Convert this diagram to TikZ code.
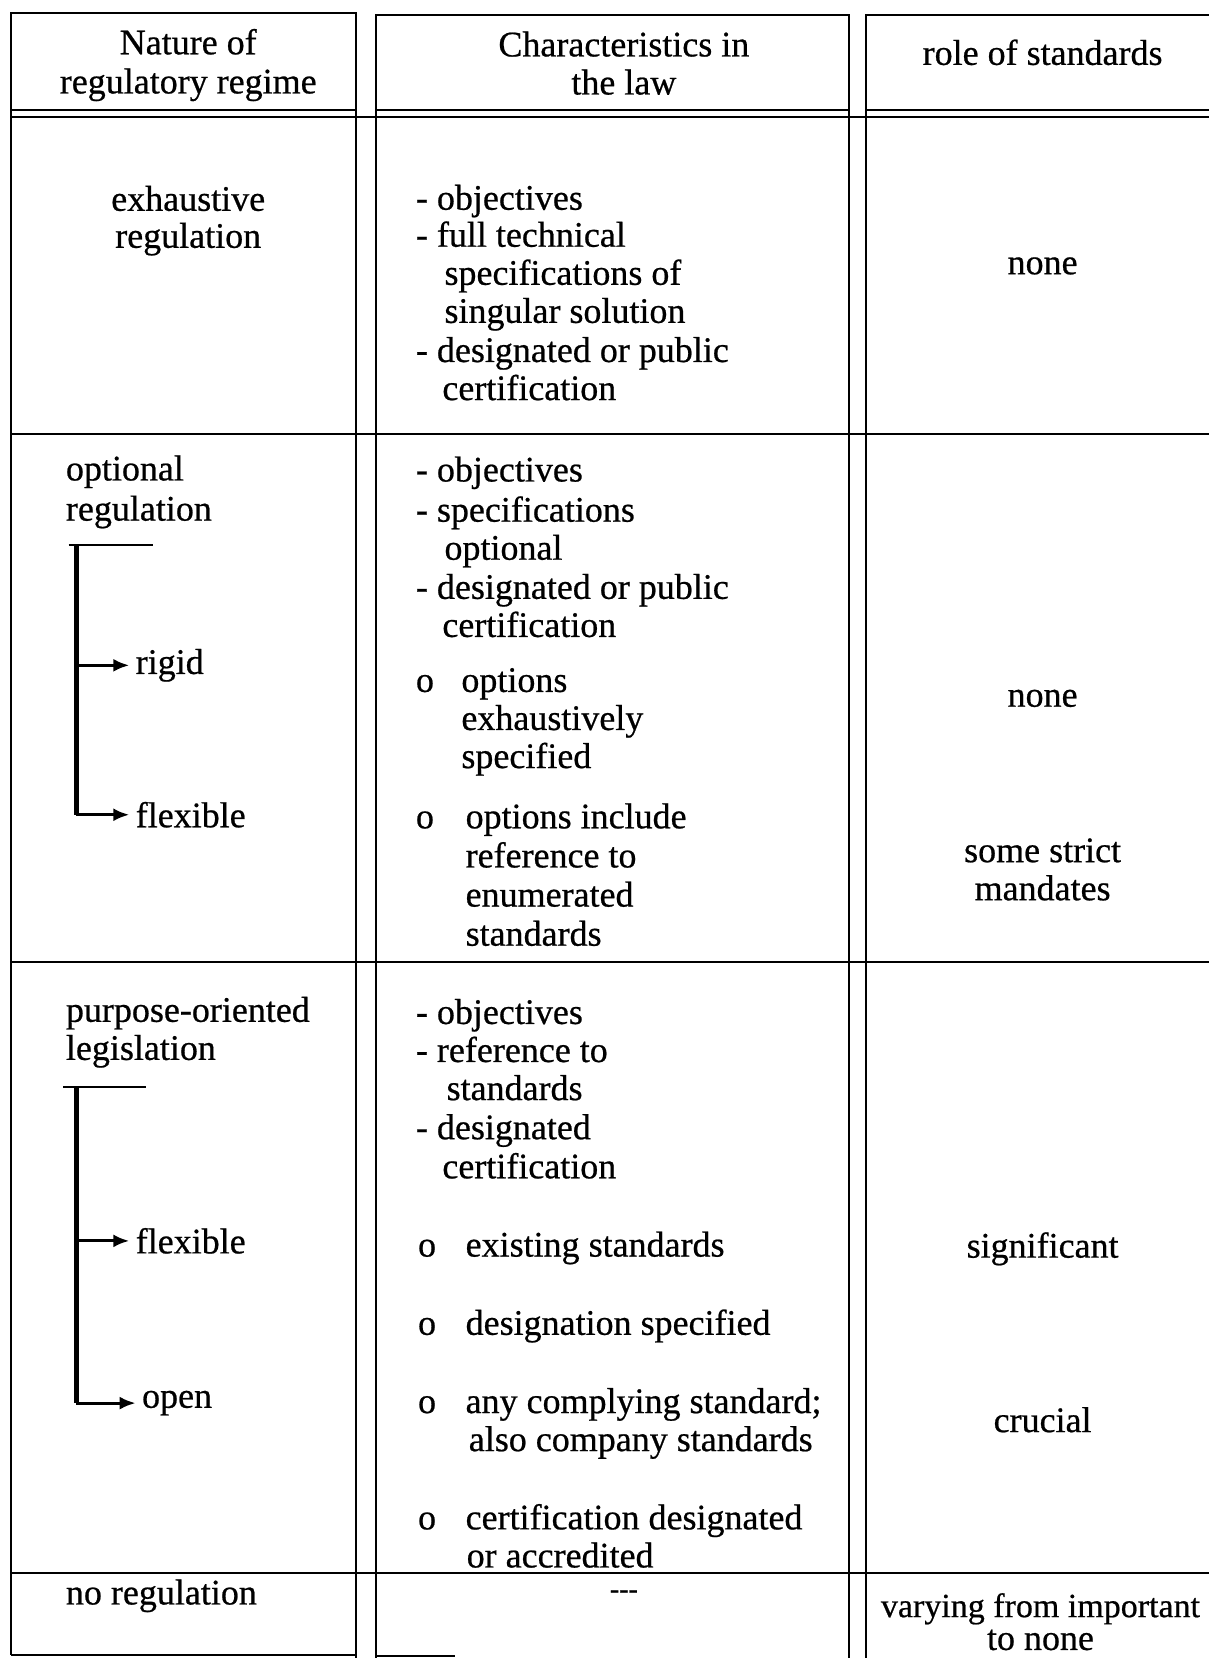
\documentclass[tikz,border=0pt]{standalone}
\usepackage{fontspec}
\setmainfont{Liberation Serif}[FakeBold=0.6]
\usetikzlibrary{arrows.meta}
\begin{document}
\begin{tikzpicture}[x=0.52887pt,y=-0.52887pt,
  txt/.style={inner sep=0pt,yshift=-3.7pt,font=\fontsize{18pt}{19.3pt}\selectfont},
  lt/.style={txt,anchor=mid west},
  ct/.style={txt,anchor=mid},
  rule/.style={line width=1pt,black},
  brace/.style={line width=2.4pt},
  branch/.style={line width=1.6pt,shorten >=3pt,-{Latex[length=8pt,width=6.5pt]}},
]
\useasboundingbox (0,0) rectangle (1143,1568);

% column frames
\draw[rule] (10,1565) -- (10,12) -- (337,12) -- (337,1568);
\draw[rule] (356,1568) -- (356,14) -- (803,14) -- (803,1568);
\draw[rule] (819,1568) -- (819,14) -- (1143,14);
% header separators (double rule)
\draw[rule] (10,104) -- (337,104);
\draw[rule] (356,104) -- (803,104);
\draw[rule] (819,104) -- (1143,104);
\draw[rule] (10,111) -- (1143,111);
% row separators
\draw[rule] (10,410) -- (1143,410);
\draw[rule] (10,910) -- (1143,910);
\draw[rule] (10,1488) -- (1143,1488);
\draw[rule] (10,1565) -- (337,1565);
\draw[rule] (356,1566) -- (430,1566);

% headers
\node[ct] (h1a) at (178,40) {Nature of};
\node[ct] (h1b) at (178,77) {regulatory regime};
\node[ct] (h2a) at (590,42) {Characteristics in};
\node[ct] (h2b) at (590,78) {the law};
\node[ct] (h3) at (986,50) {role of standards};

% row 1: exhaustive regulation
\node[ct] (r1a) at (178,188) {exhaustive};
\node[ct] (r1b) at (178,223) {regulation};
\node[lt] (r1c1) at (393,187) {- objectives};
\node[lt] (r1c2) at (393,222) {- full technical};
\node[lt] (r1c3) at (420,258) {specifications of};
\node[lt] (r1c4) at (420,294) {singular solution};
\node[lt] (r1c5) at (393,331) {- designated or public};
\node[lt] (r1c6) at (418,367) {certification};
\node[ct] (r1s) at (986,248) {none};

% row 2: optional regulation
\node[lt] (r2a) at (62,443) {optional};
\node[lt] (r2b) at (62,481) {regulation};
\node[lt] (rigid) at (128,626) {rigid};
\node[lt] (flexA) at (128,771) {flexible};
\coordinate (brA) at (72,515);
\draw[line width=1pt] (65,515) -- (145,515);
\draw[brace] (brA) -- (brA |- flexA.west);
\draw[branch] (brA |- rigid.west) -- (rigid.west);
\draw[branch] (brA |- flexA.west) -- (flexA.west);

\node[lt] (r2c1) at (393,444) {- objectives};
\node[lt] (r2c2) at (393,482) {- specifications};
\node[lt] (r2c3) at (420,518) {optional};
\node[lt] (r2c4) at (393,555) {- designated or public};
\node[lt] (r2c5) at (418,591) {certification};
\node[lt] (r2o1) at (393,643) {o};
\node[lt] (r2c6) at (436,643) {options};
\node[lt] (r2c7) at (436,679) {exhaustively};
\node[lt] (r2c8) at (436,715) {specified};
\node[lt] (r2o2) at (393,772) {o};
\node[lt] (r2c9) at (440,772) {options include};
\node[lt] (r2c10) at (440,809) {reference to};
\node[lt] (r2c11) at (440,846) {enumerated};
\node[lt] (r2c12) at (440,883) {standards};
\node[ct] (r2s1) at (986,657) {none};
\node[ct] (r2s2) at (986,804) {some strict};
\node[ct] (r2s3) at (986,840) {mandates};

% row 3: purpose-oriented legislation
\node[lt] (r3a) at (62,955) {purpose-oriented};
\node[lt] (r3b) at (62,991) {legislation};
\node[lt] (flexB) at (128,1174) {flexible};
\node[lt] (open) at (134,1320) {open};
\coordinate (brB) at (72,1028);
\draw[line width=1pt] (60,1028) -- (138,1028);
\draw[brace] (brB) -- (brB |- open.west);
\draw[branch] (brB |- flexB.west) -- (flexB.west);
\draw[branch] (brB |- open.west) -- (open.west);

\node[lt] (r3c1) at (393,957) {- objectives};
\node[lt] (r3c2) at (393,993) {- reference to};
\node[lt] (r3c3) at (422,1029) {standards};
\node[lt] (r3c4) at (393,1066) {- designated};
\node[lt] (r3c5) at (418,1103) {certification};
\node[lt] (r3o1) at (395,1177) {o};
\node[lt] (r3c6) at (440,1177) {existing standards};
\node[lt] (r3o2) at (395,1251) {o};
\node[lt] (r3c7) at (440,1251) {designation specified};
\node[lt] (r3o3) at (395,1325) {o};
\node[lt] (r3c8) at (440,1325) {any complying standard;};
\node[lt] (r3c9) at (443,1361) {also company standards};
\node[lt] (r3o4) at (395,1435) {o};
\node[lt] (r3c10) at (440,1435) {certification designated};
\node[lt] (r3c11) at (441,1471) {or accredited};
\node[ct] (r3s1) at (986,1178) {significant};
\node[ct] (r3s2) at (986,1343) {crucial};

% row 4: no regulation
\node[lt] (r4a) at (62,1506) {no regulation};
\node[ct,font=\fontsize{14pt}{16pt}\selectfont] (r4c) at (590,1500) {-{}-{}-};
\node[ct,font=\fontsize{17pt}{19pt}\selectfont] (r4s1) at (984,1518) {varying from important};
\node[ct] (r4s2) at (984,1549) {to none};
\end{tikzpicture}
\end{document}
